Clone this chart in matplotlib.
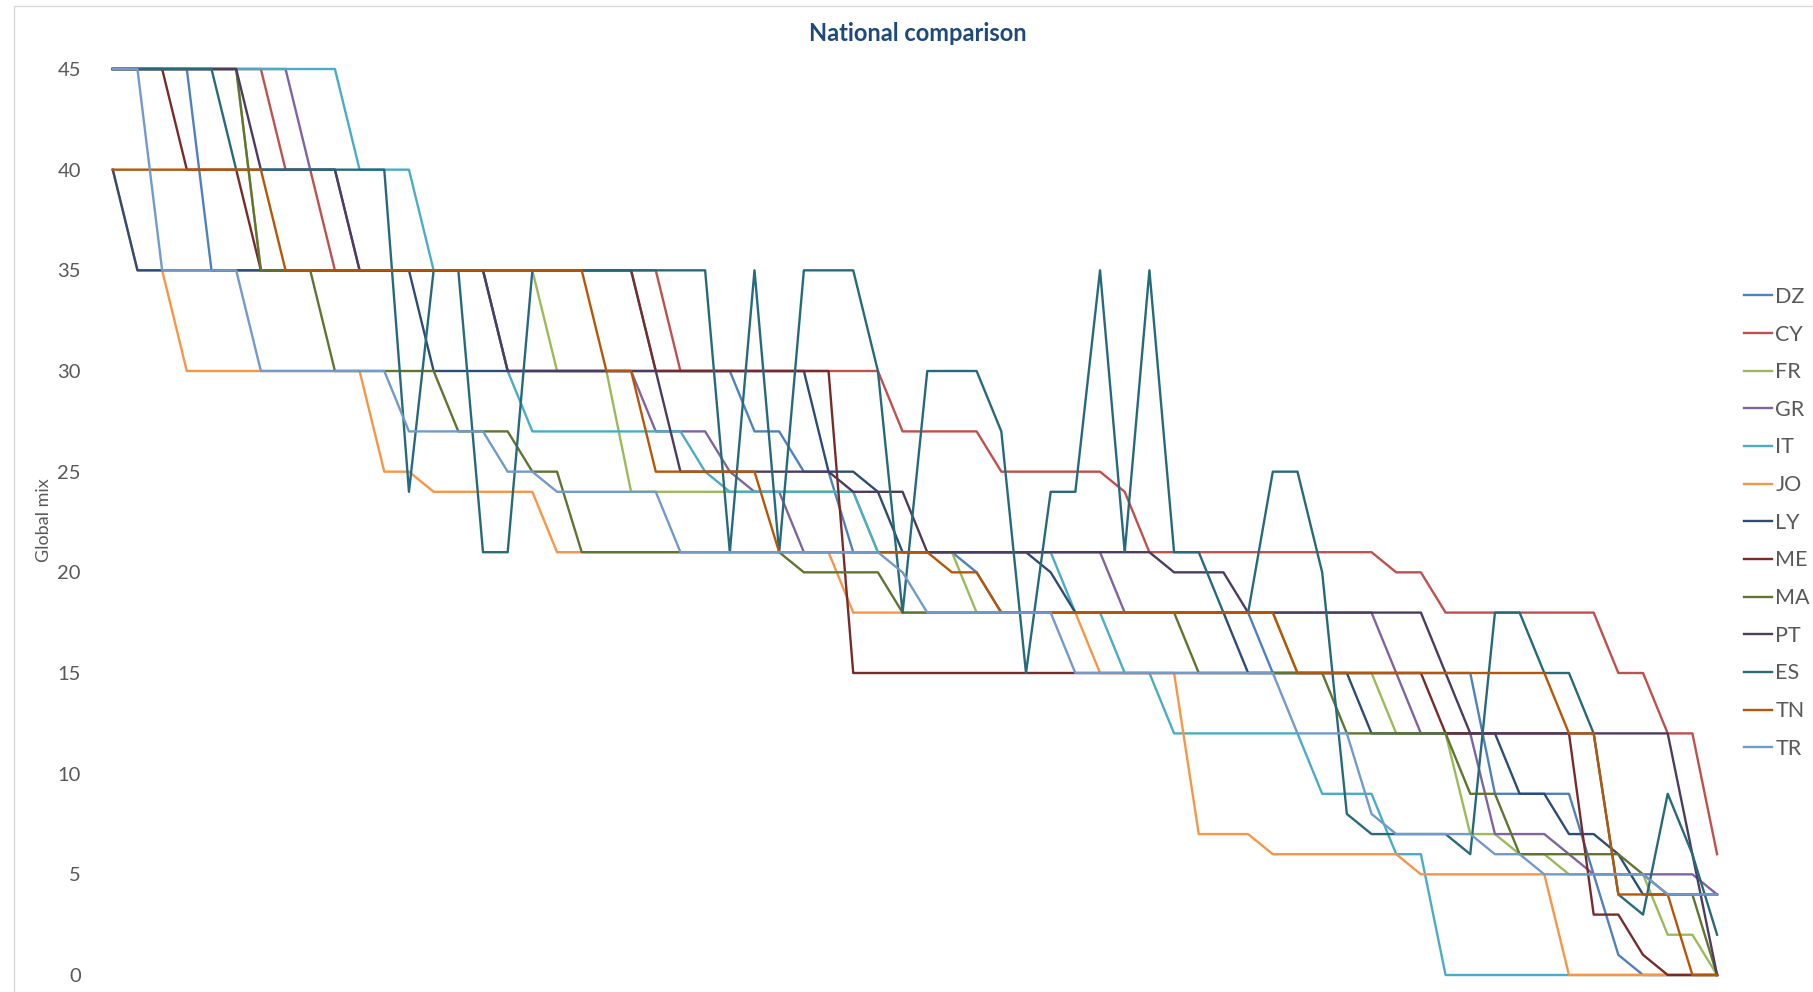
import matplotlib.pyplot as plt
from matplotlib.patches import Rectangle

plt.rcParams['font.family'] = ['Lato', 'DejaVu Sans']

countries = ['DZ', 'CY', 'FR', 'GR', 'IT', 'JO', 'LY', 'ME', 'MA', 'PT', 'ES', 'TN', 'TR']
colors = ['#4F81BD', '#C0504D', '#9BBB59', '#8064A2', '#4BACC6', '#F79646', '#2C4D75',
          '#772C2A', '#5F7530', '#4D3B62', '#276A7C', '#B65708', '#729ACA']

# global mix per step, 66 steps per country
dz = [45, 45, 45, 45, 35, 35, 35, 35, 35, 35, 35,
      35, 35, 35, 35, 35, 35, 35, 35, 35, 35, 35,
      30, 30, 30, 30, 27, 27, 25, 25, 21, 21, 21,
      21, 21, 20, 18, 18, 18, 18, 18, 18, 18, 18,
      18, 18, 18, 15, 15, 15, 15, 15, 15, 15, 15,
      15, 9, 9, 9, 9, 5, 1, 0, 0, 0, 0]
cy = [45, 45, 45, 45, 45, 45, 45, 40, 40, 35, 35,
      35, 35, 35, 35, 35, 35, 35, 35, 35, 35, 35,
      35, 30, 30, 30, 30, 30, 30, 30, 30, 30, 27,
      27, 27, 27, 25, 25, 25, 25, 25, 24, 21, 21,
      21, 21, 21, 21, 21, 21, 21, 21, 20, 20, 18,
      18, 18, 18, 18, 18, 18, 15, 15, 12, 12, 6]
fr = [45, 45, 45, 45, 45, 45, 35, 35, 35, 35, 35,
      35, 35, 35, 35, 35, 35, 35, 30, 30, 30, 24,
      24, 24, 24, 24, 24, 24, 24, 24, 24, 21, 21,
      21, 21, 18, 18, 18, 18, 18, 18, 18, 18, 18,
      18, 18, 18, 18, 15, 15, 15, 15, 12, 12, 12,
      7, 7, 6, 6, 5, 5, 5, 5, 2, 2, 0]
gr = [45, 45, 45, 45, 45, 45, 45, 45, 40, 40, 35,
      35, 35, 35, 35, 35, 30, 30, 30, 30, 30, 30,
      27, 27, 27, 25, 24, 24, 21, 21, 21, 21, 21,
      21, 21, 21, 21, 21, 21, 21, 21, 18, 18, 18,
      18, 18, 18, 18, 18, 18, 18, 18, 15, 12, 12,
      12, 7, 7, 7, 6, 5, 5, 5, 5, 5, 4]
it = [45, 45, 45, 45, 45, 45, 45, 45, 45, 45, 40,
      40, 40, 35, 35, 35, 30, 27, 27, 27, 27, 27,
      27, 27, 25, 24, 24, 24, 24, 24, 24, 21, 21,
      21, 21, 21, 21, 21, 21, 18, 18, 15, 15, 12,
      12, 12, 12, 12, 12, 9, 9, 9, 6, 6, 0,
      0, 0, 0, 0, 0, 0, 0, 0, 0, 0, 0]
jo = [40, 35, 35, 30, 30, 30, 30, 30, 30, 30, 30,
      25, 25, 24, 24, 24, 24, 24, 21, 21, 21, 21,
      21, 21, 21, 21, 21, 21, 21, 21, 18, 18, 18,
      18, 18, 18, 18, 18, 18, 18, 15, 15, 15, 15,
      7, 7, 7, 6, 6, 6, 6, 6, 6, 5, 5,
      5, 5, 5, 5, 0, 0, 0, 0, 0, 0, 0]
ly = [40, 35, 35, 35, 35, 35, 35, 35, 35, 35, 35,
      35, 35, 30, 30, 30, 30, 30, 30, 30, 30, 30,
      30, 30, 30, 30, 30, 30, 30, 25, 25, 24, 21,
      21, 21, 21, 21, 21, 20, 18, 18, 18, 18, 18,
      18, 18, 15, 15, 15, 15, 15, 12, 12, 12, 12,
      12, 12, 9, 9, 7, 7, 6, 4, 4, 4, 4]
me = [45, 45, 45, 40, 40, 40, 35, 35, 35, 35, 35,
      35, 35, 35, 35, 35, 35, 35, 35, 35, 35, 35,
      30, 30, 30, 30, 30, 30, 30, 30, 15, 15, 15,
      15, 15, 15, 15, 15, 15, 15, 15, 15, 15, 15,
      15, 15, 15, 15, 15, 15, 15, 15, 15, 15, 12,
      12, 12, 12, 12, 12, 3, 3, 1, 0, 0, 0]
ma = [45, 45, 45, 45, 45, 45, 35, 35, 35, 30, 30,
      30, 30, 30, 27, 27, 27, 25, 25, 21, 21, 21,
      21, 21, 21, 21, 21, 21, 20, 20, 20, 20, 18,
      18, 18, 18, 18, 18, 18, 18, 18, 18, 18, 18,
      15, 15, 15, 15, 15, 15, 12, 12, 12, 12, 12,
      9, 9, 6, 6, 6, 6, 6, 5, 4, 4, 0]
pt = [45, 45, 45, 45, 45, 45, 40, 40, 40, 40, 35,
      35, 35, 35, 35, 35, 30, 30, 30, 30, 30, 30,
      30, 25, 25, 25, 25, 25, 25, 25, 24, 24, 24,
      21, 21, 21, 21, 21, 21, 21, 21, 21, 21, 20,
      20, 20, 18, 18, 18, 18, 18, 18, 18, 18, 15,
      12, 12, 12, 12, 12, 12, 12, 12, 12, 6, 0]
es = [45, 45, 45, 45, 45, 40, 40, 40, 40, 40, 40,
      40, 24, 35, 35, 21, 21, 35, 35, 35, 35, 35,
      35, 35, 35, 21, 35, 21, 35, 35, 35, 30, 18,
      30, 30, 30, 27, 15, 24, 24, 35, 21, 35, 21,
      21, 18, 18, 25, 25, 20, 8, 7, 7, 7, 7,
      6, 18, 18, 15, 15, 12, 4, 3, 9, 6, 2]
tn = [40, 40, 40, 40, 40, 40, 40, 35, 35, 35, 35,
      35, 35, 35, 35, 35, 35, 35, 35, 35, 30, 30,
      25, 25, 25, 25, 25, 21, 21, 21, 21, 21, 21,
      21, 20, 20, 18, 18, 18, 18, 18, 18, 18, 18,
      18, 18, 18, 18, 15, 15, 15, 15, 15, 15, 15,
      15, 15, 15, 15, 12, 12, 4, 4, 4, 0, 0]
tr = [45, 45, 35, 35, 35, 35, 30, 30, 30, 30, 30,
      30, 27, 27, 27, 27, 25, 25, 24, 24, 24, 24,
      24, 21, 21, 21, 21, 21, 21, 21, 21, 21, 20,
      18, 18, 18, 18, 18, 18, 15, 15, 15, 15, 15,
      15, 15, 15, 15, 12, 12, 12, 8, 7, 7, 7,
      7, 6, 6, 5, 5, 5, 5, 5, 4, 4, 4]

series = [dz, cy, fr, gr, it, jo, ly, me, ma, pt, es, tn, tr]

fig = plt.figure(figsize=(18.13, 9.92), dpi=100)
fig.patches.append(Rectangle((14 / 1813, -0.1), 1.2, (986 + 99) / 992, transform=fig.transFigure,
                             fill=False, edgecolor='#D9D9D9', linewidth=1.0))

ax = fig.add_axes([0.0554, 0.01714, 0.8985, 0.9133])
x = list(range(len(dz)))
for name, vals, col in zip(countries, series, colors):
    ax.plot(x, vals, color=col, lw=1.7, label=name, clip_on=False)

ax.set_xlim(-0.5, len(dz) - 0.5)
ax.set_ylim(0, 45)
ax.set_yticks(range(0, 46, 5))
ax.set_xticks([])
for s in ax.spines.values():
    s.set_visible(False)
ax.tick_params(axis='y', length=0, labelsize=14.5, labelcolor='#595959', pad=14)

fig.text(0.024, 0.476, 'Global mix', rotation=90, ha='center', va='center',
         fontsize=13, color='#595959')
fig.text(0.506, 0.966, 'National comparison', ha='center', va='center',
         fontsize=17, fontweight='bold', color='#1F497D')

leg = ax.legend(loc='center left', bbox_to_anchor=(0.962, 0.473), bbox_transform=fig.transFigure,
                frameon=False, fontsize=15.5, handlelength=1.3, handletextpad=0.15,
                labelspacing=0.82, borderaxespad=0, borderpad=0)
for t in leg.get_texts():
    t.set_color('#595959')

fig.savefig('out.png', dpi=100)
